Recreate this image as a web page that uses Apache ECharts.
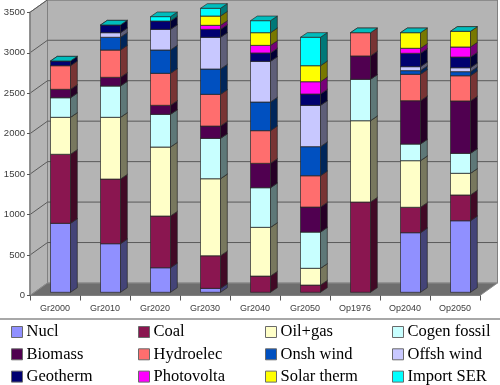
<!DOCTYPE html>
<html><head><meta charset="utf-8">
<style>html,body{margin:0;padding:0;background:#fff}#c{width:500px;height:385px}</style>
<script src="https://cdn.jsdelivr.net/npm/echarts@6/dist/echarts.min.js"></script>
</head><body><div id="c"></div>
<script>
const categories = ['Gr2000','Gr2010','Gr2020','Gr2030','Gr2040','Gr2050','Op1976','Op2040','Op2050'];
const yTicks = [0,500,1000,1500,2000,2500,3000,3500];
const Nucl     = [853,601,304,49,0,0,0,737,885];
const Coal     = [853,799,639,403,201,90,1116,314,318];
const OilGas   = [457,763,853,952,602,207,1005,576,268];
const Cogen    = [242,387,404,499,490,448,512,206,247];
const Biomass  = [104,107,111,152,301,309,288,535,647];
const Hydro    = [292,338,396,392,404,387,288,327,312];
const Onsh     = [0,157,288,313,354,359,0,45,50];
const Offsh    = [0,57,255,392,503,511,0,49,49];
const Geotherm = [58,95,103,98,103,140,0,165,132];
const Photo    = [0,0,0,50,94,152,0,62,124];
const Solar    = [0,0,0,115,157,198,0,193,194];
const ImportSER= [0,0,54,95,148,351,0,0,0];
const seriesNames = ['Nucl','Coal','Oil+gas','Cogen fossil','Biomass','Hydroelec','Onsh wind','Offsh wind','Geotherm','Photovolta','Solar therm','Import SER'];
const seriesValues = [Nucl,Coal,OilGas,Cogen,Biomass,Hydro,Onsh,Offsh,Geotherm,Photo,Solar,ImportSER];
const colors = ['#9090ff','#8a1650','#ffffc8','#c8ffff','#500050','#ff6e6e','#0050c0','#c8c8ff','#000070','#ff00ff','#ffff00','#00ffff'];

function shade(hex,k){
  const n=parseInt(hex.slice(1),16);
  const c=[(n>>16)&255,(n>>8)&255,n&255].map(v=>Math.round(v*k));
  return 'rgb('+c.join(',')+')';
}
const WALL_DX=17.5, WALL_DY=-12.5, BAR_X=-4.5, BAR_W=20, BAR_DY=-3.2, DEPTH_X=6.8, DEPTH_Y=-4.6;
const EDGE='#2a2a2a';

function poly(points,fill,stroke,lw){
  return {type:'polygon',shape:{points},style:{fill,stroke:stroke||null,lineWidth:lw||0}};
}
function renderWalls(params,api){
  const v=api.value(0);
  const l=api.coord([0,v]); const x0=l[0]-api.size([1,0])[0]/2;
  const xEnd=x0+api.size([1,0])[0]*categories.length;
  const y=l[1];
  const children=[];
  if(params.dataIndex===0){
    const top=api.coord([0,yTicks[yTicks.length-1]])[1];
    children.push(poly([[x0+WALL_DX,top+WALL_DY],[xEnd+WALL_DX,top+WALL_DY],[xEnd+WALL_DX,y+WALL_DY],[x0+WALL_DX,y+WALL_DY]],'#b4b4b4','#808080',1));
    children.push(poly([[x0,top],[x0+WALL_DX,top+WALL_DY],[x0+WALL_DX,y+WALL_DY],[x0,y]],'#b4b4b4','#808080',1));
    children.push(poly([[x0,y],[xEnd,y],[xEnd+WALL_DX,y+WALL_DY],[x0+WALL_DX,y+WALL_DY]],'#6e6e6e','#8c8c8c',1));
  } else {
    children.push({type:'polyline',shape:{points:[[x0,y],[x0+WALL_DX,y+WALL_DY],[xEnd+WALL_DX,y+WALL_DY]]},style:{fill:null,stroke:'#5a5a5a',lineWidth:1}});
  }
  return {type:'group',children};
}
function makeRender(si){
  return function(params,api){
    const cat=api.value(0), base=api.value(1), top=api.value(2);
    const last=si===seriesNames.length-1;
    if(top===base && !last) return null;
    const pb=api.coord([cat,base]), pt=api.coord([cat,top]);
    const x1=pb[0]+BAR_X, x2=x1+BAR_W, yb=pb[1]+BAR_DY, yt=pt[1]+BAR_DY;
    const c=colors[si];
    const ch=[];
    if(top!==base){
      ch.push(poly([[x1,yt],[x2,yt],[x2,yb],[x1,yb]],c,EDGE,0.7));
      ch.push(poly([[x2,yt],[x2+DEPTH_X,yt+DEPTH_Y],[x2+DEPTH_X,yb+DEPTH_Y],[x2,yb]],shade(c,0.47),EDGE,0.7));
    }
    ch.push(poly([[x1,yt],[x2,yt],[x2+DEPTH_X,yt+DEPTH_Y],[x1+DEPTH_X,yt+DEPTH_Y]],shade(c,0.74),EDGE,0.7));
    return {type:'group',children:ch};
  };
}
const series=[{
  type:'custom',name:'walls',silent:true,clip:false,z:1,
  renderItem:renderWalls,data:yTicks.map(v=>[v]),encode:{y:0}
}];
const running=categories.map(()=>0);
seriesNames.forEach((name,si)=>{
  const data=categories.map((_,i)=>{
    const b=running[i]; running[i]+=seriesValues[si][i];
    return [i,b,running[i]];
  });
  series.push({type:'custom',name,clip:false,z:2+si,renderItem:makeRender(si),
    itemStyle:{color:colors[si]},data,encode:{x:0,y:[1,2]}});
});
const lefts=[11,138,265,392];
const legend=[0,1,2,3].map(col=>({
  orient:'vertical',left:lefts[col],top:323.5,width:110,height:120,padding:0,itemGap:5.3,itemWidth:11,itemHeight:11,
  icon:'rect',selectedMode:false,
  itemStyle:{borderColor:'#6a6a6a',borderWidth:1},
  textStyle:{fontFamily:'"Liberation Serif"',fontSize:16.5,color:'#000',lineHeight:15,padding:[0,0,0,-1]},
  data:[col,col+4,col+8].map(i=>seriesNames[i])
}));
const chart=echarts.init(document.getElementById('c'),null,{renderer:'canvas'});
chart.setOption({
  animation:false,backgroundColor:'#fff',
  grid:{left:30,right:20,top:12.3,bottom:89.5,containLabel:false},
  legend,
  tooltip:{show:false},
  xAxis:{type:'category',data:categories,z:20,
    axisLine:{lineStyle:{color:'#808080',width:1.2}},
    axisTick:{show:true,alignWithLabel:false,length:5,lineStyle:{color:'#555'}},
    axisLabel:{fontFamily:'"Liberation Sans"',fontSize:9,color:'#3c3c3c',margin:9,interval:0},
    splitLine:{show:false}},
  yAxis:{type:'value',min:0,max:3500,interval:500,z:20,
    axisLine:{show:true,lineStyle:{color:'#808080',width:1.5}},
    axisTick:{show:true,length:3,lineStyle:{color:'#555'}},
    axisLabel:{fontFamily:'"Liberation Sans"',fontSize:9.5,color:'#3c3c3c',margin:5,formatter:v=>String(v)},
    splitLine:{show:false}},
  graphic:[{type:'rect',shape:{x:0,y:318,width:500,height:2},style:{fill:'#a8a8a8'}}],
  series
});
</script></body></html>
